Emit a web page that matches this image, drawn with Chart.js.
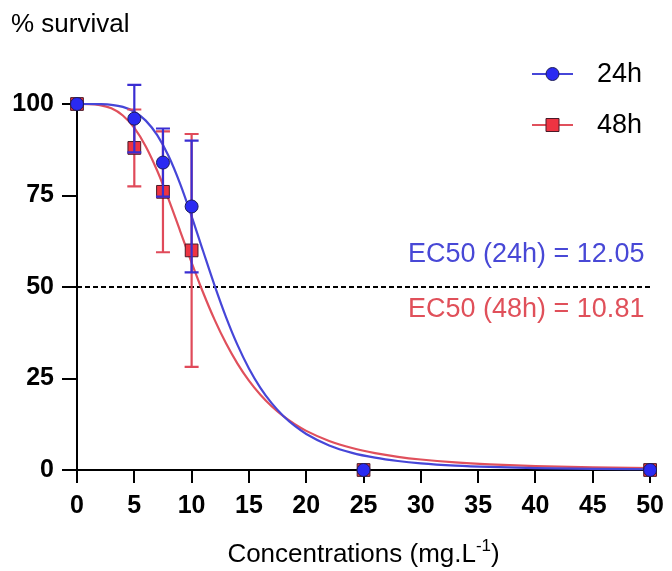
<!DOCTYPE html>
<html>
<head>
<meta charset="utf-8">
<script src="https://cdn.jsdelivr.net/npm/chart.js@4.4.1/dist/chart.umd.min.js"></script>
<style>
  html, body { margin: 0; padding: 0; background: #ffffff; }
  #wrap { width: 672px; height: 571px; position: relative; }
</style>
</head>
<body>
<div id="wrap"><canvas id="c" width="672" height="571"></canvas></div>
<script>
// ---- data ----
const concentrations = [0, 5, 7.5, 10, 25, 50];
const survival24 = [100, 96, 84, 72, 0, 0];
const sd24 = [0, 9.2, 9.3, 18, 0, 0];
const survival48 = [100, 88, 76, 60, 0, 0];
const sd48 = [0, 10.5, 16.5, 31.8, 0, 0];

// fitted curves
const fitX = [0, 1, 2, 3, 4, 5, 6, 7, 8, 9, 10, 11, 12, 13, 14, 15, 16, 17, 18, 19, 20, 22, 24, 26, 28, 30, 33, 36, 40, 45, 50];
const fit24 = [100, 100, 99.96, 99.77, 99.2, 97.9, 95.46, 91.48, 85.7, 78.17, 69.32, 59.83, 50.46, 41.79, 34.18, 27.75, 22.46, 18.19, 14.76, 12.03, 9.85, 6.72, 4.69, 3.36, 2.45, 1.82, 1.21, 0.83, 0.53, 0.32, 0.2];
const fit48 = [100, 99.97, 99.7, 98.81, 96.86, 93.47, 88.4, 81.75, 73.86, 65.3, 56.68, 48.5, 41.09, 34.61, 29.07, 24.41, 20.54, 17.34, 14.69, 12.5, 10.69, 7.94, 6.0, 4.62, 3.61, 2.87, 2.08, 1.55, 1.08, 0.72, 0.5];

const halfLevel = 50;
const xRange = [0, 50];
const yRange = [0, 100];
const xStep = 5;
const yStep = 25;

const seriesLabels = ['24h', '48h'];
const ec50Texts = ['EC50 (24h) = 12.05', 'EC50 (48h) = 10.81'];
const yTitle = '% survival';
const xTitleMain = 'Concentrations (mg.L';
const xTitleSup = '-1';
const xTitleEnd = ')';

// ---- styles ----
const BLUE_LINE = '#4646d8';
const RED_LINE = '#e0505c';
const BLUE_FILL = '#2a2af2';
const RED_FILL = '#ee3442';
const BLUE_ERR = '#3a2ed2';
const RED_ERR = '#e04a5a';
const FONT = "'Liberation Sans', Arial, sans-serif";

function pts(xs, ys) { return xs.map((x, i) => ({ x: x, y: ys[i] })); }

const errorBarPlugin = {
  id: 'errorBars',
  beforeDatasetDraw(chart, args) {
    const ds = chart.data.datasets[args.index];
    if (!ds.errors) return;
    const xs = chart.scales.x, ys = chart.scales.y;
    const ctx = chart.ctx;
    ctx.save();
    ctx.strokeStyle = ds.errorColor;
    ctx.lineWidth = 2.2;
    ds.data.forEach((p, i) => {
      const e = ds.errors[i];
      if (!e) return;
      const px = xs.getPixelForValue(p.x);
      const top = ys.getPixelForValue(p.y + e);
      const bot = ys.getPixelForValue(p.y - e);
      ctx.beginPath();
      ctx.moveTo(px, top); ctx.lineTo(px, bot);
      ctx.moveTo(px - 7, top); ctx.lineTo(px + 7, top);
      ctx.moveTo(px - 7, bot); ctx.lineTo(px + 7, bot);
      ctx.stroke();
    });
    ctx.restore();
  }
};

const decorPlugin = {
  id: 'decor',
  afterDraw(chart) {
    const ctx = chart.ctx;
    const area = chart.chartArea;
    ctx.save();
    // y title
    ctx.fillStyle = '#000';
    ctx.font = '26px ' + FONT;
    ctx.textAlign = 'left';
    ctx.textBaseline = 'middle';
    ctx.fillText(yTitle, 11, 25);

    // x title with superscript
    const mainFont = '26px ' + FONT;
    const supFont = '17px ' + FONT;
    ctx.font = mainFont;
    const w1 = ctx.measureText(xTitleMain).width;
    const w3 = ctx.measureText(xTitleEnd).width;
    ctx.font = supFont;
    const w2 = ctx.measureText(xTitleSup).width;
    const total = w1 + w2 + w3;
    const cx = (area.left + area.right) / 2;
    let x0 = cx - total / 2;
    const yb = 562;
    ctx.textBaseline = 'alphabetic';
    ctx.font = mainFont;
    ctx.fillText(xTitleMain, x0, yb);
    ctx.font = supFont;
    ctx.fillText(xTitleSup, x0 + w1, yb - 11);
    ctx.font = mainFont;
    ctx.fillText(xTitleEnd, x0 + w1 + w2, yb);

    // legend
    const legendRows = [
      { y: 74, line: BLUE_LINE, fill: BLUE_FILL, border: '#1c1c5a', shape: 'circle', label: seriesLabels[0] },
      { y: 125, line: RED_LINE, fill: RED_FILL, border: '#4a1a28', shape: 'rect', label: seriesLabels[1] }
    ];
    legendRows.forEach(r => {
      ctx.strokeStyle = r.line;
      ctx.lineWidth = 2;
      ctx.beginPath();
      ctx.moveTo(532, r.y); ctx.lineTo(573, r.y);
      ctx.stroke();
      ctx.fillStyle = r.fill;
      ctx.strokeStyle = r.border;
      ctx.lineWidth = 1;
      ctx.beginPath();
      if (r.shape === 'circle') ctx.arc(552.5, r.y, 6.5, 0, Math.PI * 2);
      else ctx.rect(546, r.y - 6.5, 13, 13);
      ctx.fill(); ctx.stroke();
      ctx.fillStyle = '#000';
      ctx.font = '27px ' + FONT;
      ctx.textBaseline = 'middle';
      ctx.fillText(r.label, 597, r.y + 1);
    });

    // EC50 labels
    ctx.font = '27px ' + FONT;
    ctx.textBaseline = 'alphabetic';
    ctx.fillStyle = '#4848d6';
    ctx.fillText(ec50Texts[0], 408, 262);
    ctx.fillStyle = '#e0505a';
    ctx.fillText(ec50Texts[1], 408, 317);
    ctx.restore();
  }
};

const ctx = document.getElementById('c').getContext('2d');
new Chart(ctx, {
  type: 'line',
  data: {
    datasets: [
      {
        label: seriesLabels[0] + ' points',
        data: pts(concentrations, survival24),
        showLine: false,
        pointStyle: 'circle',
        pointRadius: 6.5,
        pointBackgroundColor: BLUE_FILL,
        pointBorderColor: '#1c1c5a',
        pointBorderWidth: 1,
        errors: sd24,
        errorColor: BLUE_ERR,
        clip: false,
        order: 1
      },
      {
        label: seriesLabels[1] + ' points',
        data: pts(concentrations, survival48),
        showLine: false,
        pointStyle: 'rect',
        pointRadius: 9,
        pointBackgroundColor: RED_FILL,
        pointBorderColor: '#4a1a28',
        pointBorderWidth: 1,
        errors: sd48,
        errorColor: RED_ERR,
        clip: false,
        order: 2
      },
      {
        label: seriesLabels[0] + ' fit',
        data: pts(fitX, fit24),
        borderColor: BLUE_LINE,
        borderWidth: 2.2,
        pointRadius: 0,
        cubicInterpolationMode: 'monotone',
        fill: false,
        clip: false,
        order: 3
      },
      {
        label: seriesLabels[1] + ' fit',
        data: pts(fitX, fit48),
        borderColor: RED_LINE,
        borderWidth: 2.2,
        pointRadius: 0,
        cubicInterpolationMode: 'monotone',
        fill: false,
        clip: false,
        order: 4
      },
      {
        label: 'EC50 level',
        data: [{ x: xRange[0], y: halfLevel }, { x: xRange[1], y: halfLevel }],
        borderColor: '#000',
        borderWidth: 2,
        borderDash: [5, 3],
        pointRadius: 0,
        fill: false,
        order: 5
      }
    ]
  },
  options: {
    responsive: false,
    animation: false,
    events: [],
    layout: { padding: { top: 104, right: 18, left: 0, bottom: 0 } },
    plugins: { legend: { display: false }, tooltip: { enabled: false }, title: { display: false } },
    scales: {
      x: {
        type: 'linear',
        min: xRange[0], max: xRange[1],
        ticks: { stepSize: xStep, color: '#000', font: { family: FONT, size: 25, weight: 'bold' }, padding: 8, maxRotation: 0 },
        grid: { drawOnChartArea: false, drawTicks: true, tickLength: 13, color: '#000', lineWidth: 2 },
        border: { display: true, color: '#000', width: 2 },
        afterFit(scale) { scale.height = 101; }
      },
      y: {
        type: 'linear',
        min: yRange[0], max: yRange[1],
        ticks: { stepSize: yStep, color: '#000', font: { family: FONT, size: 25, weight: 'bold' }, padding: 8 },
        grid: { drawOnChartArea: false, drawTicks: true, tickLength: 15, color: '#000', lineWidth: 2 },
        border: { display: true, color: '#000', width: 2 },
        afterFit(scale) { scale.width = 77; }
      }
    }
  },
  plugins: [errorBarPlugin, decorPlugin]
});
</script>
</body>
</html>
